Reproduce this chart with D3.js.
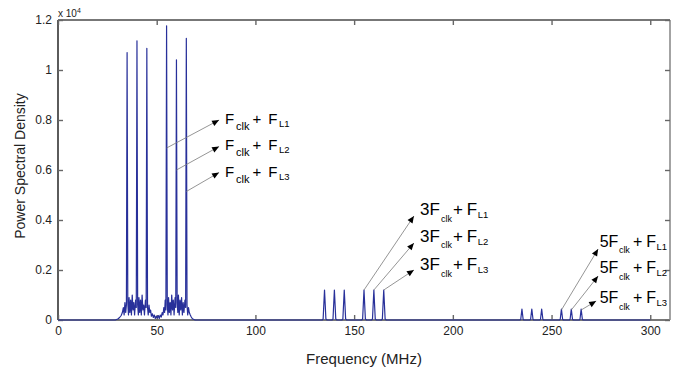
<!DOCTYPE html>
<html><head><meta charset="utf-8">
<script src="https://cdn.jsdelivr.net/npm/d3@7"></script>
<style>
html,body{margin:0;padding:0;background:#fff;}
svg{display:block;font-family:"Liberation Sans",Arial,sans-serif;}
</style></head><body>
<svg id="chart" width="692" height="371"></svg>
<script>
// ---- data (PSD in units of 1e4, frequency in MHz) ----
const freq = [0,29,30.3,31.2,32.0,32.6,33.1,33.5,33.9,34.3,34.65,35.0,35.35,35.7,36.0,36.4,36.8,37.2,37.6,38.0,38.4,38.8,39.3,39.65,40.0,40.35,40.7,41.0,41.4,41.8,42.2,42.6,43.0,43.4,43.8,44.3,44.65,45.0,45.35,45.7,46.1,46.5,46.9,47.3,47.8,48.3,48.8,49.3,49.8,50.3,50.8,51.3,51.8,52.3,52.8,53.2,53.6,54.0,54.3,54.65,55.0,55.35,55.7,56.0,56.4,56.8,57.2,57.6,58.0,58.4,58.8,59.3,59.65,60.0,60.35,60.7,61.0,61.4,61.8,62.2,62.6,63.0,63.4,63.8,64.3,64.65,65.0,65.35,65.7,66.1,66.5,67.0,67.5,68.0,68.6,69.5,
  133.8,134.3,135.0,135.7,136.3,138.8,139.3,140.0,140.7,141.3,143.8,144.3,145.0,145.7,146.3,
  153.8,154.3,155.0,155.7,156.3,158.8,159.3,160.0,160.7,161.3,163.8,164.3,165.0,165.7,166.3,
  234.0,234.4,235.0,235.6,236.0,239.0,239.4,240.0,240.6,241.0,244.0,244.4,245.0,245.6,246.0,
  254.0,254.4,255.0,255.6,256.0,259.0,259.4,260.0,260.6,261.0,264.0,264.4,265.0,265.6,266.0,300];
const psd = [0,0,0.004,0.01,0.018,0.03,0.05,0.02,0.07,0.03,0.06,1.07,0.07,0.02,0.09,0.03,0.08,0.02,0.10,0.04,0.07,0.02,0.08,0.05,1.117,0.06,0.02,0.09,0.03,0.08,0.02,0.10,0.04,0.06,0.02,0.08,0.05,1.087,0.05,0.02,0.06,0.03,0.04,0.015,0.025,0.01,0.02,0.006,0.015,0.008,0.018,0.006,0.02,0.012,0.03,0.02,0.05,0.03,0.08,0.04,1.177,0.06,0.02,0.09,0.03,0.07,0.02,0.10,0.04,0.08,0.02,0.09,0.05,1.041,0.07,0.03,0.10,0.02,0.08,0.04,0.09,0.02,0.07,0.03,0.08,0.05,1.127,0.06,0.02,0.05,0.03,0.02,0.012,0.006,0.003,0,
  0,0.004,0.12,0.004,0,0,0.004,0.12,0.004,0,0,0.004,0.12,0.004,0,
  0,0.004,0.12,0.004,0,0,0.004,0.12,0.004,0,0,0.004,0.12,0.004,0,
  0,0.003,0.044,0.003,0,0,0.003,0.044,0.003,0,0,0.003,0.044,0.003,0,
  0,0.003,0.044,0.003,0,0,0.003,0.044,0.003,0,0,0.003,0.044,0.003,0,0];

const xTicks = [0,50,100,150,200,250,300];
const yTicks = [0,0.2,0.4,0.6,0.8,1,1.2];
const yTickLabels = ["0","0.2","0.4","0.6","0.8","1","1.2"];

// annotations: prefix, start point (peak), arrow tip, text anchor (data units)
const annPrefix   = ["F","F","F","3F","3F","3F","5F","5F","5F"];
const annSub      = ["L1","L2","L3","L1","L2","L3","L1","L2","L3"];
const annStartF   = [55,60,65,155,160,165,255,260,265];
const annStartV   = [0.688,0.600,0.514,0.120,0.120,0.120,0.040,0.040,0.040];
const annTipF     = [81.6,81.6,81.6,180.3,180.3,180.3,273.6,273.6,272.6];
const annTipV     = [0.800,0.694,0.590,0.416,0.308,0.200,0.284,0.176,0.076];
const annTextF    = [84.6,84.6,84.6,183.4,183.4,183.4,274.4,274.4,274.4];
const annTextV    = [0.784,0.680,0.572,0.420,0.313,0.200,0.293,0.187,0.068];

// ---- layout ----
const L=58, R=670, T=20, B=320;
const svg = d3.select("#chart");
const x = d3.scaleLinear().domain([0,310]).range([L,R]);
const y = d3.scaleLinear().domain([0,1.2]).range([B,T]);

const axisColor = "#4a4a4a";
svg.append("line").attr("x1",L).attr("x2",R).attr("y1",T).attr("y2",T).attr("stroke",axisColor).attr("stroke-width",1.6);
svg.append("line").attr("x1",L).attr("x2",L).attr("y1",T).attr("y2",B).attr("stroke","#333").attr("stroke-width",1.6);
svg.append("line").attr("x1",L).attr("x2",R).attr("y1",B).attr("y2",B).attr("stroke",axisColor).attr("stroke-width",1.6);
svg.append("line").attr("x1",R).attr("x2",R).attr("y1",T).attr("y2",B).attr("stroke","#8c8c8c").attr("stroke-width",1.6);

function styleAxis(g, labels){
  g.select(".domain").remove();
  g.selectAll(".tick line").attr("stroke","#666").attr("stroke-width",1.4);
  g.selectAll("text").attr("fill","#222").style("font-size","12px")
   .style("font-family","'Liberation Sans',Arial,sans-serif");
  if(!labels) g.selectAll("text").remove();
}
svg.append("g").attr("transform",`translate(0,${B})`)
  .call(d3.axisBottom(x).tickValues(xTicks).tickSizeInner(-5).tickSizeOuter(0).tickPadding(6).tickFormat(d3.format("d")))
  .call(g=>styleAxis(g,true));
svg.append("g").attr("transform",`translate(0,${T})`)
  .call(d3.axisTop(x).tickValues(xTicks).tickSizeInner(-5).tickSizeOuter(0))
  .call(g=>styleAxis(g,false));
svg.append("g").attr("transform",`translate(${L},0)`)
  .call(d3.axisLeft(y).tickValues(yTicks).tickSizeInner(-5).tickSizeOuter(0).tickPadding(6).tickFormat((d,i)=>yTickLabels[i]))
  .call(g=>styleAxis(g,true));
svg.append("g").attr("transform",`translate(${R},0)`)
  .call(d3.axisRight(y).tickValues(yTicks).tickSizeInner(-5).tickSizeOuter(0))
  .call(g=>styleAxis(g,false));

// exponent label
const ex = svg.append("text").attr("x",L).attr("y",T-3).attr("fill","#222").style("font-size","10px");
ex.append("tspan").text("x 10");
ex.append("tspan").attr("dy",-4).style("font-size","7px").text("4");

// axis titles
svg.append("text").attr("x",(L+R)/2).attr("y",364).attr("text-anchor","middle")
  .attr("fill","#222").style("font-size","15px").text("Frequency (MHz)");
svg.append("text").attr("transform",`translate(25,${(T+B)/2-4}) rotate(-90)`).attr("text-anchor","middle")
  .attr("fill","#222").style("font-size","14px").text("Power Spectral Density");

// spectrum
const pts = freq.map((f,i)=>[f,psd[i]]);
svg.append("path").datum(pts)
  .attr("fill","none").attr("stroke","#28309a").attr("stroke-width",1.2).attr("stroke-linejoin","round")
  .attr("d", d3.line().x(d=>x(d[0])).y(d=>y(d[1])));

// annotation typography per group
const typo = [
  {big:15, small:11, dxClk:1.8, dxPlus:3, dxF:7, dyClk:6, dyL:2.5, dxL:1.5, smallL:9.5},
  {big:17, small:9,  dxClk:1,   dxPlus:1.2, dxF:3.8, dyClk:6.5, dyL:3, dxL:0.5, smallL:9.5},
  {big:16, small:9,  dxClk:0.5, dxPlus:3, dxF:4, dyClk:6.5, dyL:3, dxL:0.5, smallL:9.5}
];
annPrefix.forEach((p,i)=>{
  const x1=x(annStartF[i]), y1=y(annStartV[i]), x2=x(annTipF[i]), y2=y(annTipV[i]);
  svg.append("line").attr("x1",x1).attr("y1",y1).attr("x2",x2).attr("y2",y2)
    .attr("stroke","#7a7a7a").attr("stroke-width",0.8);
  const a=Math.atan2(y2-y1,x2-x1), len=7, w=3;
  const bx=x2-len*Math.cos(a), by=y2-len*Math.sin(a);
  const nx=-Math.sin(a)*w, ny=Math.cos(a)*w;
  svg.append("path").attr("d",`M${x2},${y2}L${bx+nx},${by+ny}L${bx-nx},${by-ny}Z`).attr("fill","#000");
  const s = typo[Math.floor(i/3)];
  const t = svg.append("text").attr("x",x(annTextF[i])).attr("y",y(annTextV[i])).attr("fill","#000")
    .style("font-size",s.big+"px");
  t.append("tspan").text(p);
  t.append("tspan").attr("dx",s.dxClk).attr("dy",s.dyClk).style("font-size",s.small+"px").text("clk");
  t.append("tspan").attr("dx",s.dxPlus).attr("dy",-s.dyClk).text("+");
  t.append("tspan").attr("dx",s.dxF).text("F");
  t.append("tspan").attr("dx",s.dxL).attr("dy",s.dyL).style("font-size",s.smallL+"px").text(annSub[i]);
});
</script></body></html>
